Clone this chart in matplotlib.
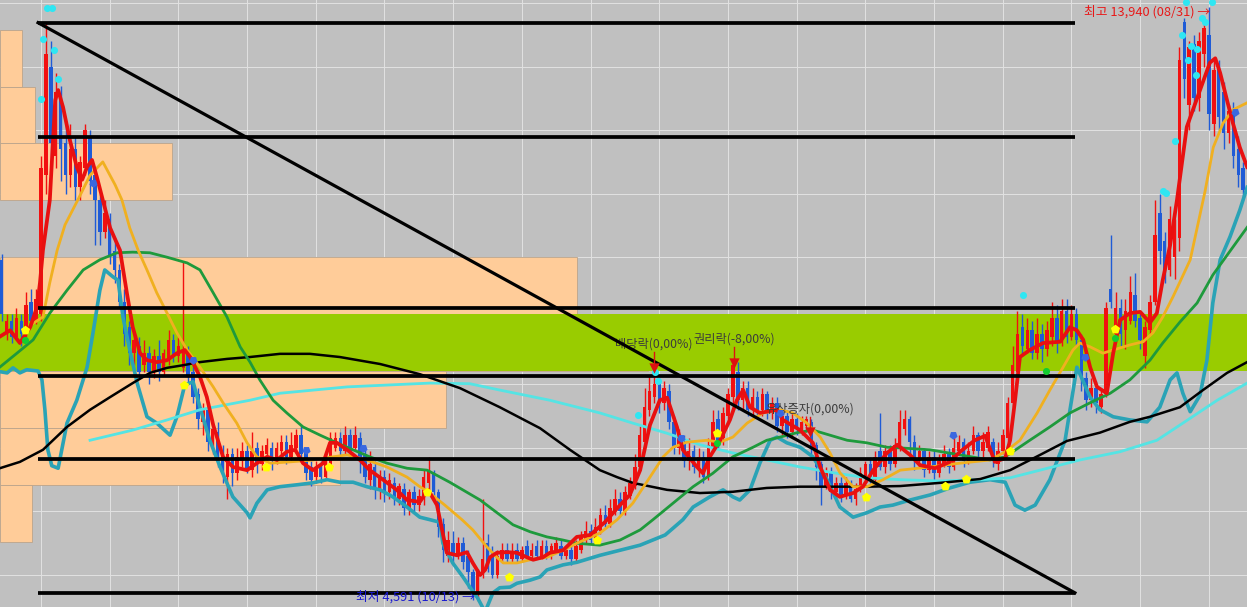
import numpy as np
import matplotlib.pyplot as plt
from matplotlib.patches import Rectangle

plt.rcParams['font.family'] = ['Noto Sans CJK KR', 'DejaVu Sans']
plt.rcParams['axes.unicode_minus'] = False

# 일봉 시세 (단위: 천원), 왼쪽부터 거래일 순서
opens = [
    9.95, 8.80, 9.00, 8.75, 9.00, 8.80, 9.30, 9.00, 9.10, 11.30,
    13.00, 11.60, 12.50, 11.80, 11.30, 11.70, 11.10, 11.40, 11.90, 11.30,
    10.90, 10.40, 10.60, 10.10, 9.80, 9.30, 8.90, 8.50, 8.60, 8.30,
    8.50, 8.20, 8.45, 8.20, 8.40, 8.70, 8.45, 8.25, 8.50, 8.20,
    7.85, 7.40, 7.60, 7.05, 7.25, 6.95, 6.55, 6.90, 6.60, 6.80,
    6.95, 6.65, 7.00, 6.75, 6.90, 7.00, 6.80, 6.95, 7.10, 6.85,
    7.00, 7.20, 6.95, 6.70, 6.55, 6.70, 6.55, 6.70, 7.00, 7.15,
    6.95, 7.20, 7.00, 7.15, 6.90, 6.50, 6.70, 6.35, 6.55, 6.30,
    6.45, 6.20, 6.35, 6.05, 6.30, 6.10, 6.20, 6.45, 6.60, 6.30,
    5.80, 5.30, 5.50, 5.30, 5.50, 5.30, 5.05, 4.70, 5.00, 5.50,
    5.35, 5.00, 5.25, 5.40, 5.25, 5.40, 5.25, 5.45, 5.30, 5.45,
    5.30, 5.45, 5.30, 5.40, 5.45, 5.30, 5.40, 5.25, 5.40, 5.55,
    5.70, 5.55, 5.70, 5.95, 5.80, 6.00, 6.20, 6.00, 6.25, 6.40,
    6.70, 7.10, 7.60, 7.80, 8.00, 7.70, 7.90, 7.40, 7.00, 7.10,
    6.80, 6.95, 6.70, 6.85, 6.55, 7.00, 7.45, 7.15, 7.50, 7.80,
    8.20, 7.75, 7.95, 7.60, 7.80, 7.60, 7.85, 7.55, 7.70, 7.35,
    7.50, 7.25, 7.45, 7.30, 7.35, 7.40, 7.05, 6.75, 6.40, 6.60,
    6.30, 6.45, 6.25, 6.40, 6.20, 6.35, 6.55, 6.75, 6.50, 6.95,
    6.70, 6.95, 6.75, 7.00, 7.30, 7.45, 7.10, 6.80, 6.95, 6.65,
    6.85, 6.60, 6.75, 6.90, 6.70, 6.95, 7.10, 6.80, 6.95, 7.20,
    6.95, 7.00, 7.10, 6.75, 6.95, 7.15, 7.70, 8.20, 8.90, 8.55,
    8.85, 8.50, 8.80, 8.55, 8.75, 9.05, 8.70, 9.15, 8.75, 9.10,
    8.70, 8.10, 7.75, 7.95, 7.65, 7.85, 9.50, 8.80, 9.20, 8.85,
    9.00, 9.40, 9.05, 8.45, 8.85, 9.30, 10.70, 10.25, 9.80, 10.00,
    10.30, 13.70, 12.40, 13.35, 12.50, 13.20, 13.50, 12.10, 13.00, 12.60,
    11.95, 12.30, 11.70, 11.40,
]
highs = [
    10.05, 9.10, 9.10, 9.20, 9.10, 9.45, 9.50, 9.50, 11.60, 13.70,
    13.40, 12.90, 12.70, 12.10, 12.10, 11.90, 11.60, 12.10, 12.00, 11.40,
    11.00, 10.90, 10.70, 10.30, 9.90, 9.50, 9.00, 8.80, 8.75, 8.70,
    8.60, 8.55, 8.70, 8.55, 8.85, 8.80, 8.75, 9.93, 8.60, 8.30,
    7.95, 7.70, 7.65, 7.35, 7.40, 7.05, 7.00, 7.00, 7.00, 7.10,
    7.05, 7.25, 7.10, 7.05, 7.15, 7.10, 7.10, 7.20, 7.20, 7.25,
    7.30, 7.35, 7.00, 6.80, 6.80, 6.80, 6.85, 7.25, 7.25, 7.25,
    7.35, 7.30, 7.35, 7.25, 7.00, 6.95, 6.80, 6.65, 6.65, 6.60,
    6.55, 6.45, 6.45, 6.35, 6.40, 6.35, 6.65, 6.85, 6.65, 6.35,
    5.90, 5.70, 5.70, 5.60, 5.60, 5.40, 5.10, 5.10, 6.20, 5.65,
    5.45, 5.40, 5.50, 5.50, 5.50, 5.50, 5.45, 5.55, 5.50, 5.55,
    5.55, 5.55, 5.50, 5.60, 5.55, 5.45, 5.50, 5.55, 5.70, 5.85,
    5.80, 5.90, 6.05, 6.10, 6.20, 6.35, 6.30, 6.40, 6.55, 6.90,
    7.35, 7.95, 8.15, 8.12, 8.10, 8.05, 8.00, 7.50, 7.30, 7.20,
    7.15, 7.05, 7.00, 6.95, 7.15, 7.60, 7.60, 7.65, 7.95, 8.40,
    8.35, 8.05, 8.05, 7.95, 7.90, 7.95, 7.90, 7.80, 7.80, 7.60,
    7.60, 7.55, 7.55, 7.50, 7.50, 7.45, 7.10, 6.80, 6.70, 6.70,
    6.55, 6.55, 6.55, 6.50, 6.45, 6.70, 6.80, 6.85, 6.95, 7.55,
    7.05, 7.05, 7.15, 7.60, 7.60, 7.50, 7.20, 7.05, 7.00, 6.95,
    6.95, 6.90, 7.05, 7.00, 7.25, 7.20, 7.15, 7.10, 7.35, 7.25,
    7.25, 7.35, 7.15, 7.10, 7.30, 7.80, 8.60, 9.15, 9.10, 9.05,
    9.00, 9.05, 8.95, 9.00, 9.30, 9.25, 9.35, 9.35, 9.25, 9.20,
    8.80, 8.20, 8.10, 8.05, 7.95, 9.30, 10.35, 9.45, 9.35, 9.35,
    9.70, 9.75, 9.10, 9.00, 9.40, 10.90, 11.00, 10.40, 10.80, 10.60,
    13.30, 13.76, 13.40, 13.50, 13.55, 13.75, 13.94, 13.10, 13.10, 12.75,
    12.40, 12.45, 11.90, 11.50,
]
lows = [
    9.00, 8.70, 8.65, 8.70, 8.60, 8.75, 8.95, 8.95, 9.00, 11.00,
    11.50, 11.40, 11.20, 11.00, 11.10, 10.90, 10.90, 11.30, 11.00, 10.20,
    10.20, 10.30, 9.90, 9.60, 9.20, 8.60, 8.30, 8.30, 8.10, 8.20,
    8.00, 8.10, 8.05, 8.15, 8.30, 8.35, 8.35, 8.20, 8.00, 7.70,
    7.30, 7.20, 6.95, 6.90, 6.70, 6.45, 6.20, 6.40, 6.50, 6.70,
    6.60, 6.55, 6.60, 6.65, 6.80, 6.65, 6.75, 6.85, 6.75, 6.80,
    6.95, 6.80, 6.50, 6.40, 6.45, 6.45, 6.50, 6.65, 6.95, 6.85,
    6.90, 6.85, 6.95, 6.60, 6.45, 6.35, 6.20, 6.20, 6.15, 6.20,
    6.10, 6.10, 5.95, 5.95, 6.00, 6.00, 6.10, 6.35, 6.20, 5.60,
    5.20, 5.20, 5.15, 5.25, 5.10, 4.80, 4.60, 4.591, 4.95, 5.05,
    4.95, 4.95, 5.20, 5.20, 5.20, 5.20, 5.20, 5.25, 5.25, 5.25,
    5.25, 5.25, 5.25, 5.35, 5.25, 5.25, 5.15, 5.20, 5.35, 5.50,
    5.50, 5.50, 5.65, 5.75, 5.75, 5.95, 5.95, 5.95, 6.20, 6.35,
    6.65, 7.05, 7.50, 7.70, 7.55, 7.60, 7.30, 6.90, 6.90, 6.70,
    6.65, 6.60, 6.55, 6.45, 6.50, 6.95, 7.00, 7.05, 7.40, 7.70,
    7.60, 7.60, 7.50, 7.50, 7.50, 7.50, 7.45, 7.45, 7.25, 7.20,
    7.15, 7.15, 7.20, 7.20, 7.25, 6.90, 6.50, 6.10, 6.35, 6.20,
    6.20, 6.15, 6.20, 6.15, 6.10, 6.30, 6.50, 6.45, 6.45, 6.65,
    6.60, 6.65, 6.70, 6.95, 7.20, 6.90, 6.65, 6.70, 6.55, 6.60,
    6.50, 6.55, 6.70, 6.60, 6.65, 6.90, 6.70, 6.75, 6.90, 6.85,
    6.85, 6.95, 6.70, 6.65, 6.90, 7.10, 7.65, 8.10, 8.45, 8.50,
    8.40, 8.40, 8.35, 8.45, 8.60, 8.50, 8.60, 8.65, 8.70, 8.60,
    7.90, 7.60, 7.65, 7.55, 7.55, 7.80, 9.20, 8.75, 8.60, 8.55,
    8.95, 8.90, 8.55, 8.25, 8.80, 9.25, 9.90, 9.60, 9.70, 9.65,
    10.10, 12.50, 12.00, 12.30, 12.30, 13.00, 12.00, 11.90, 12.00, 11.70,
    11.80, 11.40, 11.10, 10.95,
]
closes = [
    9.10, 9.00, 8.75, 9.05, 8.80, 9.25, 9.00, 9.35, 11.40, 13.20,
    11.80, 12.60, 11.70, 11.30, 11.70, 11.10, 11.50, 12.00, 11.20, 10.90,
    10.40, 10.70, 10.00, 9.80, 9.30, 8.80, 8.50, 8.70, 8.20, 8.50,
    8.20, 8.45, 8.20, 8.50, 8.70, 8.45, 8.60, 8.55, 8.15, 7.80,
    7.45, 7.60, 7.10, 7.30, 6.80, 6.60, 6.90, 6.60, 6.85, 6.95,
    6.65, 6.95, 6.75, 6.95, 7.05, 6.80, 7.00, 7.10, 6.85, 7.05,
    7.20, 6.90, 6.60, 6.50, 6.70, 6.55, 6.80, 7.15, 7.15, 6.95,
    7.20, 6.95, 7.20, 6.85, 6.55, 6.75, 6.35, 6.55, 6.30, 6.50,
    6.20, 6.40, 6.05, 6.30, 6.10, 6.25, 6.55, 6.65, 6.30, 5.75,
    5.40, 5.55, 5.30, 5.50, 5.20, 5.05, 4.75, 5.05, 5.25, 5.10,
    5.00, 5.30, 5.40, 5.25, 5.35, 5.25, 5.40, 5.30, 5.40, 5.30,
    5.45, 5.30, 5.45, 5.50, 5.30, 5.40, 5.25, 5.45, 5.60, 5.70,
    5.55, 5.75, 5.95, 5.80, 6.05, 6.20, 6.00, 6.30, 6.45, 6.70,
    7.20, 7.65, 7.90, 8.00, 7.70, 7.95, 7.40, 7.00, 7.15, 6.80,
    6.95, 6.70, 6.85, 6.55, 7.05, 7.40, 7.10, 7.55, 7.85, 8.30,
    7.75, 7.95, 7.60, 7.80, 7.60, 7.85, 7.55, 7.70, 7.35, 7.50,
    7.25, 7.45, 7.30, 7.40, 7.45, 7.00, 6.70, 6.40, 6.60, 6.30,
    6.45, 6.25, 6.45, 6.20, 6.35, 6.60, 6.75, 6.50, 6.85, 6.70,
    6.95, 6.75, 7.05, 7.40, 7.45, 7.10, 6.80, 6.95, 6.65, 6.85,
    6.60, 6.80, 6.90, 6.70, 7.00, 7.10, 6.80, 6.95, 7.20, 6.95,
    7.10, 7.25, 6.80, 6.95, 7.20, 7.70, 8.30, 8.80, 8.60, 8.85,
    8.50, 8.80, 8.55, 8.85, 9.05, 8.65, 9.15, 8.75, 9.10, 8.70,
    8.10, 7.75, 7.95, 7.70, 7.85, 9.20, 9.30, 9.20, 8.80, 9.15,
    9.45, 9.00, 8.70, 8.90, 9.30, 10.35, 10.10, 9.75, 10.60, 10.50,
    13.10, 12.80, 13.30, 12.50, 13.40, 13.60, 12.25, 12.95, 12.20, 11.95,
    12.30, 11.60, 11.30, 11.05,
]
hi_date = '08/31'
lo_date = '10/13'

# 이동평균선 / 밴드 하단 (거래일, 가격)
ma5_days = [-0.4, 1.7, 3.7, 5.8, 7.2, 7.8, 8.4, 9.8, 10.9, 11.5,
            12.5, 13.9, 15.3, 16.4, 17.4, 18.4, 19.4, 20.6, 22.1, 24.1,
            25.5, 26.7, 28.2, 29.6, 31.6, 33.7, 35.7, 37.3, 38.4, 40.4,
            41.8, 43.1, 45.1, 47.1, 50.0, 52.0, 54.1, 56.1, 58.1, 59.8,
            61.4, 63.4, 65.5, 66.9, 68.3, 70.4, 73.0, 75.0, 77.7, 80.5,
            82.6, 85.2, 86.9, 88.7, 90.7, 92.8, 94.8, 96.0, 97.5, 98.5,
            99.5, 100.9, 103.0, 105.0, 107.0, 108.3, 110.3, 111.7, 114.4, 117.2,
            119.9, 122.9, 126.0, 128.0, 130.1, 132.1, 134.1, 135.6, 137.6, 138.8,
            141.7, 142.9, 144.3, 146.4, 148.4, 149.8, 151.1, 152.5, 154.5, 158.0,
            159.2, 162.7, 165.3, 166.8, 168.8, 170.8, 173.5, 175.5, 177.6, 180.4,
            182.5, 185.1, 187.1, 190.2, 193.2, 195.3, 198.3, 200.4, 202.4, 204.5,
            205.5, 206.5, 207.5, 209.5, 212.2, 215.7, 217.7, 219.1, 220.4, 221.8,
            223.2, 225.2, 226.5, 227.9, 229.9, 232.0, 234.0, 235.4, 236.6, 238.1,
            239.5, 241.5, 244.2, 246.2, 247.3, 248.3, 249.7, 250.9, 252.3, 253.8]
ma5_px = [8.75, 8.85, 8.65, 8.90, 9.22, 9.60, 10.11, 10.90, 12.47, 12.63,
          12.36, 11.84, 11.42, 11.22, 11.42, 11.53, 11.26, 10.90, 10.46, 10.11,
          9.44, 8.90, 8.49, 8.38, 8.35, 8.38, 8.49, 8.54, 8.43, 8.12,
          7.80, 7.36, 6.86, 6.70, 6.65, 6.76, 6.86, 6.81, 6.94, 6.97,
          6.76, 6.65, 6.76, 7.08, 7.08, 6.97, 6.81, 6.65, 6.50, 6.34,
          6.18, 6.15, 6.34, 6.10, 5.35, 5.31, 5.36, 5.19, 5.00, 5.08,
          5.28, 5.35, 5.36, 5.35, 5.28, 5.24, 5.28, 5.35, 5.39, 5.60,
          5.63, 5.83, 6.10, 6.26, 6.65, 7.36, 7.75, 7.79, 7.33, 6.97,
          6.70, 6.60, 6.86, 7.12, 7.44, 7.75, 7.91, 7.64, 7.55, 7.60,
          7.44, 7.28, 7.08, 6.70, 6.34, 6.23, 6.29, 6.39, 6.65, 6.92,
          7.05, 6.89, 6.73, 6.68, 6.78, 6.94, 7.12, 7.19, 6.78, 6.84,
          7.12, 7.75, 8.43, 8.54, 8.65, 8.67, 8.90, 8.85, 8.70, 8.27,
          7.96, 7.86, 8.49, 9.01, 9.12, 9.14, 8.97, 9.12, 9.64, 10.19,
          10.90, 12.05, 12.63, 13.06, 13.13, 12.90, 12.47, 12.11, 11.73, 11.42]

ma20_days = [5.8, 8.4, 9.8, 11.3, 12.9, 15.5, 18.0, 20.6, 23.1, 24.5,
             26.1, 27.8, 29.6, 31.6, 33.7, 35.7, 37.8, 40.4, 43.1, 45.1,
             47.9, 50.0, 52.0, 54.7, 58.7, 63.4, 67.5, 70.4, 74.4, 78.5,
             82.6, 85.2, 86.9, 90.3, 93.8, 96.0, 98.9, 100.9, 102.2, 105.0,
             107.7, 111.1, 114.4, 117.2, 121.9, 125.4, 128.6, 132.1, 134.8, 136.8,
             139.6, 143.7, 146.4, 149.0, 151.9, 155.1, 158.6, 161.2, 164.1, 166.8,
             168.8, 170.8, 173.5, 176.3, 179.6, 183.1, 189.2, 195.3, 201.4, 204.5,
             207.5, 211.0, 213.6, 216.3, 218.3, 219.7, 221.8, 224.4, 226.5, 229.9,
             232.6, 234.6, 236.6, 238.7, 240.1, 242.2, 245.2, 246.9, 248.9, 250.9,
             253.8]
ma20_px = [8.93, 9.06, 9.60, 10.11, 10.51, 10.90, 11.29, 11.50, 11.14, 10.90,
           10.46, 10.11, 9.80, 9.44, 9.12, 8.81, 8.54, 8.27, 7.96, 7.71,
           7.39, 7.08, 6.86, 6.76, 6.78, 6.81, 6.86, 6.89, 6.81, 6.70,
           6.54, 6.39, 6.31, 6.10, 5.87, 5.71, 5.44, 5.28, 5.19, 5.19,
           5.24, 5.28, 5.39, 5.50, 5.66, 5.87, 6.13, 6.54, 6.86, 7.01,
           7.09, 7.12, 7.09, 7.17, 7.39, 7.55, 7.60, 7.55, 7.39, 7.17,
           6.92, 6.61, 6.39, 6.39, 6.50, 6.65, 6.70, 6.76, 6.81, 6.94,
           7.12, 7.55, 7.91, 8.27, 8.54, 8.65, 8.59, 8.49, 8.54, 8.62,
           8.67, 8.81, 9.06, 9.38, 9.61, 9.96, 11.03, 11.73, 12.11, 12.32,
           12.43]

ma60_days = [-0.4, 3.1, 6.4, 9.8, 13.3, 16.6, 20.0, 23.5, 26.7, 30.2,
             33.7, 37.8, 40.4, 43.1, 45.9, 48.6, 50.6, 52.6, 55.3, 58.1,
             61.4, 64.9, 68.3, 71.6, 75.0, 78.5, 82.6, 86.7, 91.3, 97.5,
             104.2, 107.7, 111.1, 114.4, 117.2, 121.9, 126.0, 130.1, 132.7, 136.8,
             140.9, 144.9, 149.0, 153.1, 155.9, 158.6, 162.1, 165.3, 168.8, 172.3,
             176.3, 180.4, 183.1, 189.2, 195.3, 201.4, 204.5, 209.5, 213.6, 217.7,
             221.8, 225.9, 229.9, 234.0, 236.6, 240.1, 243.6, 246.8, 253.8]
ma60_px = [8.27, 8.49, 8.70, 9.12, 9.48, 9.80, 9.96, 10.07, 10.08, 10.07,
           10.00, 9.91, 9.80, 9.44, 9.06, 8.59, 8.35, 8.07, 7.75, 7.55,
           7.33, 7.20, 7.08, 6.97, 6.86, 6.76, 6.68, 6.65, 6.46, 6.18,
           5.79, 5.68, 5.60, 5.55, 5.50, 5.47, 5.55, 5.71, 5.87, 6.13,
           6.39, 6.60, 6.86, 7.01, 7.12, 7.17, 7.24, 7.28, 7.20, 7.12,
           7.08, 7.01, 7.00, 6.97, 6.89, 6.81, 6.86, 7.12, 7.33, 7.55,
           7.71, 7.86, 8.07, 8.38, 8.65, 8.98, 9.28, 9.72, 10.47]

ma120_days = [-0.4, 3.7, 8.4, 13.3, 18.0, 22.1, 26.7, 30.2, 33.7, 36.9,
              40.4, 45.9, 50.6, 56.7, 62.8, 68.9, 77.1, 85.2, 93.4, 101.5,
              109.7, 115.8, 121.9, 125.4, 128.6, 135.6, 142.3, 149.0, 155.9, 162.7,
              169.4, 176.3, 183.1, 191.2, 199.4, 205.5, 211.6, 217.1, 223.8, 229.9,
              234.0, 240.1, 244.8, 249.7, 253.8]
ma120_px = [6.68, 6.78, 6.97, 7.33, 7.60, 7.80, 8.02, 8.18, 8.26, 8.30,
            8.35, 8.40, 8.43, 8.48, 8.48, 8.43, 8.32, 8.16, 7.94, 7.64,
            7.31, 6.97, 6.65, 6.54, 6.45, 6.34, 6.29, 6.31, 6.37, 6.39,
            6.39, 6.39, 6.40, 6.45, 6.51, 6.65, 6.89, 7.11, 7.24, 7.41,
            7.49, 7.64, 7.91, 8.18, 8.35]

ma240_days = [18.0, 26.7, 33.7, 40.4, 50.6, 56.7, 70.4, 87.3, 95.4, 101.5,
              111.7, 121.9, 128.6, 135.6, 142.3, 149.0, 155.9, 162.7, 169.4, 176.3,
              183.1, 191.2, 199.4, 205.5, 211.6, 219.7, 227.9, 235.4, 240.7, 247.7,
              253.8]
ma240_px = [7.12, 7.28, 7.44, 7.60, 7.75, 7.86, 7.96, 8.02, 8.01, 7.91,
            7.75, 7.55, 7.39, 7.23, 7.05, 6.92, 6.81, 6.70, 6.61, 6.53,
            6.50, 6.48, 6.50, 6.53, 6.65, 6.81, 6.94, 7.12, 7.39, 7.75,
            8.02]

band_days = [-0.4, 1.1, 2.3, 3.7, 5.1, 7.4, 8.2, 8.8, 9.4, 10.2,
             11.5, 13.3, 15.3, 17.4, 18.6, 20.0, 21.0, 22.7, 23.7, 24.7,
             26.1, 27.6, 29.6, 31.6, 34.3, 35.7, 37.3, 39.0, 40.4, 42.4,
             44.5, 47.1, 50.0, 50.6, 52.0, 54.1, 56.7, 60.2, 63.4, 66.3,
             68.9, 71.6, 74.4, 77.1, 79.7, 82.6, 85.2, 87.3, 89.3, 89.9,
             91.9, 94.0, 95.4, 96.9, 98.5, 100.1, 101.5, 103.6, 105.0, 107.7,
             109.7, 111.1, 114.4, 117.2, 121.9, 130.1, 135.2, 138.8, 140.9, 144.3,
             147.0, 149.0, 150.4, 152.5, 154.5, 156.6, 158.0, 160.0, 162.7, 165.3,
             168.2, 170.8, 173.5, 176.3, 179.0, 181.6, 185.1, 189.2, 193.2, 197.3,
             201.4, 204.5, 206.5, 208.5, 210.6, 213.6, 216.7, 219.1, 221.8, 223.8,
             226.5, 229.9, 233.4, 236.0, 238.1, 239.5, 240.7, 242.2, 244.2, 245.6,
             246.8, 248.3, 250.3, 252.3, 253.8]
band_px = [8.20, 8.18, 8.26, 8.18, 8.23, 8.21, 8.07, 7.60, 6.97, 6.72,
           6.68, 7.39, 7.75, 8.27, 8.81, 9.48, 9.80, 9.69, 9.64, 9.06,
           8.54, 8.02, 7.49, 7.39, 7.20, 7.49, 7.99, 8.04, 7.64, 7.12,
           6.70, 6.23, 5.98, 5.90, 6.13, 6.34, 6.39, 6.42, 6.45, 6.50,
           6.46, 6.46, 6.39, 6.34, 6.23, 6.07, 5.91, 5.87, 5.83, 5.50,
           5.19, 4.97, 4.81, 4.65, 4.42, 4.72, 4.80, 4.81, 4.87, 4.92,
           4.97, 5.08, 5.16, 5.20, 5.31, 5.47, 5.63, 5.87, 6.07, 6.23,
           6.34, 6.23, 6.18, 6.34, 6.76, 7.12, 7.17, 7.08, 7.01, 6.86,
           6.50, 6.07, 5.91, 5.98, 6.07, 6.10, 6.18, 6.26, 6.37, 6.46,
           6.50, 6.46, 6.10, 6.02, 6.10, 6.50, 7.12, 8.27, 7.80, 7.60,
           7.49, 7.44, 7.41, 7.64, 8.07, 8.18, 7.86, 7.57, 7.83, 8.38,
           9.28, 9.96, 10.32, 10.74, 11.10]

# 매물대 (가격 구간 경계, 폭 = 차트 너비 대비 %)
vp_edges = [13.58, 12.685, 11.79, 10.895, 10.00, 9.105, 8.21, 7.315, 6.42, 5.525, 4.63]
vp_share = [1.8, 2.8, 13.8, 0.0, 46.3, 52.0, 35.8, 27.3, 2.6, 0.0]

# 추세선 / 지지저항선
level_px = [13.69, 11.89, 9.20, 8.13, 6.83, 4.72]
level_from, level_to = 7.4, 218.7

# 신호 표시
cyan_days = [9.2, 10.2, 8.4, 10.7, 11.5, 8.0, 129.7, 133.1, 133.7, 208.1, 236.7,
             237.3, 239.1, 240.5, 241.3, 241.8, 242.4, 243.4, 243.6, 244.6, 245.2, 246.6]
cyan_px = [13.92, 13.92, 13.43, 13.26, 12.80, 12.49, 7.52, 8.20, 8.05, 9.41, 11.04,
           11.01, 11.83, 13.50, 14.02, 13.10, 13.32, 12.87, 13.28, 13.76, 13.70, 14.02]
sell_days = [18.6, 39.0, 62.0, 73.6, 138.4, 158.6, 193.9, 220.8, 251.3]
sell_px = [11.17, 8.38, 6.97, 7.00, 7.16, 7.55, 7.20, 8.43, 12.28]
buy_days = [4.7, 37.1, 53.9, 66.7, 86.7, 103.4, 121.3, 145.8, 176.1, 192.2, 196.5, 205.5, 226.9]
buy_px = [8.86, 7.99, 6.70, 6.70, 6.31, 4.97, 5.55, 7.23, 6.23, 6.40, 6.51, 6.95, 8.87]
dot_days = [4.7, 145.8, 212.8, 226.9]
dot_px = [8.70, 7.08, 8.21, 8.73]

event_labels = ['배당락(0,00%)', '권리락(-8,00%)', '유상증자(0,00%)']
event_days = [132.9, 149.2, 164.7]
event_tip = [8.26, 8.34, 7.25]
event_top = [8.51, 8.59, 7.49]

grid_days = [8, 22, 36, 50, 64, 78, 92, 106, 120, 134, 148, 162, 176, 190, 204, 218, 232, 246]
grid_px = [5, 6, 7, 8, 9, 10, 11, 12, 13, 14]

o = np.array(opens)
h = np.array(highs)
l = np.array(lows)
c = np.array(closes)
days = np.arange(len(o))

fig = plt.figure(figsize=(12.47, 6.07), dpi=100)
ax = fig.add_axes([0, 0, 1, 1])
ax.set_facecolor('#c0c0c0')
ax.set_xlim(-0.35, 253.77)
ax.set_ylim(4.497, 14.047)
ax.set_xticks([])
ax.set_yticks([])
for s in ax.spines.values():
    s.set_visible(False)

for d in grid_days:
    ax.axvline(d, color='#e2e2e2', lw=0.7, zorder=0.5)
for p in grid_px:
    ax.axhline(p, color='#e2e2e2', lw=0.7, zorder=0.5)

# 매물대
yt = ax.get_yaxis_transform()
for top, bot, w in zip(vp_edges[:-1], vp_edges[1:], vp_share):
    if w > 0:
        ax.add_patch(Rectangle((0, bot), w / 100, top - bot, transform=yt,
                               facecolor='#ffcc99', edgecolor='#bba48c', lw=0.6, zorder=1))
poc = int(np.argmax(vp_share))
ax.axhspan(vp_edges[poc + 1], vp_edges[poc], color='#99cc00', lw=0, zorder=1.2)

# 캔들
col = np.where(c >= o, '#f21010', '#1f5bd6')
ax.vlines(days, l, h, colors=col, lw=1.0, zorder=3)
ax.bar(days, np.maximum(np.abs(c - o), 0.03), bottom=np.minimum(o, c), width=0.72,
       color=col, lw=0, zorder=3)

# 이동평균
ax.plot(band_days, band_px, color='#2aa3b6', lw=2.6, zorder=3.5)
ax.plot(ma240_days, ma240_px, color='#55e4e4', lw=2.0, zorder=3.6)
ax.plot(ma120_days, ma120_px, color='#000000', lw=1.8, zorder=3.7)
ax.plot(ma60_days, ma60_px, color='#1e9a3c', lw=2.0, zorder=3.8)
ax.plot(ma20_days, ma20_px, color='#f0b020', lw=2.0, zorder=3.9)
ax.plot(ma5_days, ma5_px, color='#e81010', lw=2.7, zorder=4)

# 지지/저항선, 추세선
ax.hlines(level_px, level_from, level_to, color='black', lw=2.7, zorder=5)
ax.plot([level_from, level_to], [level_px[0], level_px[-1]], color='black', lw=2.3, zorder=5)

# 신호
ax.scatter(cyan_days, cyan_px, s=26, color='#2fe6f2', lw=0, zorder=6)
ax.scatter(sell_days, sell_px, s=38, marker=(5, 0, 180), color='#3a68e0', lw=0, zorder=6)
ax.scatter(buy_days, buy_px, s=48, marker=(5, 0, 0), color='#ffff00', lw=0, zorder=6)
ax.scatter(dot_days, dot_px, s=26, color='#12cc30', lw=0, zorder=6)

for lab, d, tip, top in zip(event_labels, event_days, event_tip, event_top):
    ax.plot([d, d], [top, tip], color='#dd1111', lw=1, zorder=6)
    ax.scatter([d], [tip], marker='v', s=55, color='#dd1111', lw=0, zorder=6)
    ax.annotate(lab, (d, top), xytext=(0, 1), textcoords='offset points', ha='center',
                va='bottom', fontsize=8.8, color='#3c3c3c', zorder=4.5)

hi_day = int(np.argmax(h))
lo_day = int(np.argmin(l))
ax.annotate(f'최고 {h[hi_day] * 1000:,.0f} ({hi_date}) →', (hi_day, h[hi_day]),
            xytext=(1, -3.6), textcoords='offset points', ha='right', va='center',
            fontsize=9.2, color='#e81818', zorder=7)
ax.annotate(f'최저 {l[lo_day] * 1000:,.0f} ({lo_date}) →', (lo_day, l[lo_day]),
            xytext=(-2, 2.7), textcoords='offset points', ha='right', va='center',
            fontsize=9.2, color='#1a1ad0', zorder=7)

fig.savefig('out.png', dpi=100, facecolor='#c0c0c0')
